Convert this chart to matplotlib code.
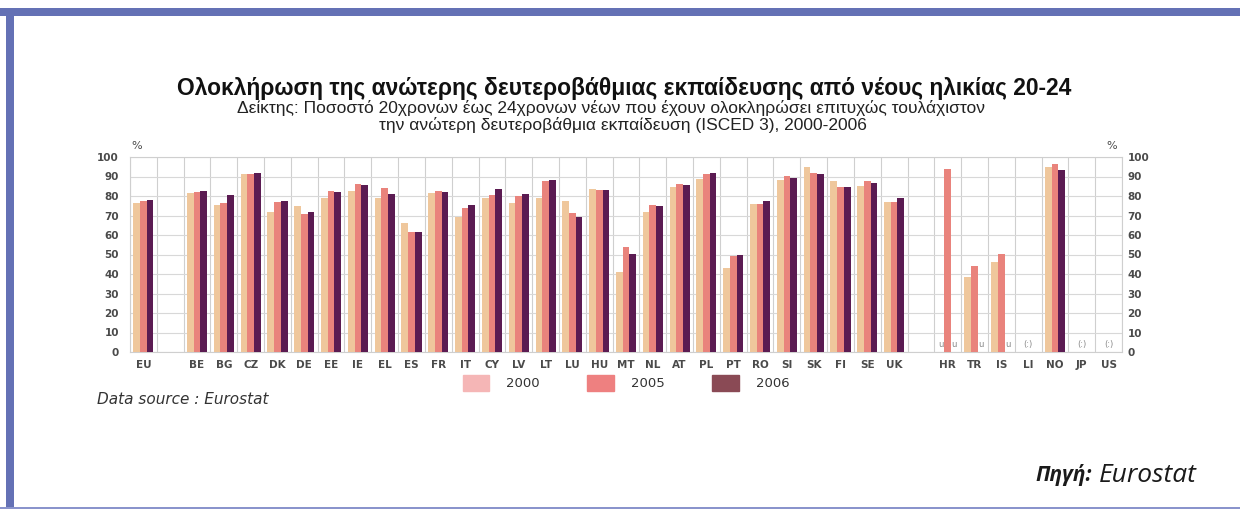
import numpy as np
import matplotlib.pyplot as plt
from matplotlib.patches import Patch

# categories (empty strings are the spacer slots)
countries = ['EU', '', 'BE', 'BG', 'CZ', 'DK', 'DE', 'EE', 'IE', 'EL', 'ES', 'FR', 'IT', 'CY',
             'LV', 'LT', 'LU', 'HU', 'MT', 'NL', 'AT', 'PL', 'PT', 'RO', 'SI', 'SK', 'FI',
             'SE', 'UK', '', 'HR', 'TR', 'IS', 'LI', 'NO', 'JP', 'US']
nan = np.nan
v2000 = [76.6, nan, 81.7, 75.2, 91.2, 72.0, 74.7, 79.0, 82.6, 79.2, 66.0, 81.6, 69.4, 79.0,
         76.5, 78.9, 77.5, 83.5, 40.9, 71.9, 84.7, 88.8, 43.2, 76.1, 88.0, 94.8, 87.7,
         85.2, 76.7, nan, nan, 38.5, 46.2, nan, 95.0, nan, nan]
v2005 = [77.5, nan, 81.8, 76.5, 91.2, 77.1, 71.0, 82.6, 86.1, 84.0, 61.3, 82.8, 73.6, 80.4,
         79.9, 87.8, 71.1, 83.3, 53.7, 75.6, 85.9, 91.1, 49.0, 76.0, 90.5, 91.8, 84.6,
         87.8, 77.1, nan, 93.6, 44.0, 50.2, nan, 96.2, nan, nan]
v2006 = [77.8, nan, 82.4, 80.5, 91.8, 77.4, 71.6, 82.0, 85.4, 81.0, 61.6, 82.1, 75.5, 83.7,
         81.0, 88.2, 69.3, 82.9, 50.4, 74.7, 85.8, 91.7, 49.6, 77.2, 89.4, 91.5, 84.7,
         86.5, 78.8, nan, nan, nan, nan, nan, 93.3, nan, nan]
years = ['2000', '2005', '2006']
# flags for missing values: (slot, series index, text)
flags = [(30, 0, 'u'), (30, 2, 'u'), (31, 2, 'u'), (32, 2, 'u'),
         (33, 1, '(:)'), (35, 1, '(:)'), (36, 1, '(:)')]

bar_colors = ['#efc79c', '#e9837c', '#5b1b52']
legend_colors = ['#f5b6b6', '#ee8080', '#8a4a55']
tick_color = '#4a4a4a'

fig = plt.figure(figsize=(12.4, 5.09), dpi=100)

# blue frame
frame = '#6471b5'
fig.add_artist(plt.Rectangle((0, 1 - 16 / 509), 1, 8 / 509, transform=fig.transFigure,
                             color=frame, lw=0))
fig.add_artist(plt.Rectangle((6 / 1240, 0), 8 / 1240, 1 - 9 / 509, transform=fig.transFigure,
                             color=frame, lw=0))
fig.add_artist(plt.Rectangle((0, 0), 1, 2 / 509, transform=fig.transFigure,
                             color='#8a94cc', lw=0))

ax = fig.add_axes([130 / 1240, 157 / 509, 992 / 1240, 195 / 509])
x = np.arange(len(countries))
w = 0.25
for i, vals in enumerate([v2000, v2005, v2006]):
    ax.bar(x + (i - 1) * w, vals, width=w, color=bar_colors[i], edgecolor='none', zorder=3)

for slot, i, txt in flags:
    ax.text(slot + (i - 1) * w, 4, txt, ha='center', va='center', fontsize=6,
            color='#888888', zorder=4)

ax.set_xlim(-0.5, len(countries) - 0.5)
ax.set_ylim(0, 100)
ax.set_yticks(np.arange(0, 101, 10))
ax.set_xticks(x)
ax.set_xticklabels(countries)
ax.set_xticks(np.arange(-0.5, len(countries), 1), minor=True)
ax.grid(True, which='minor', axis='x', color='#cfcfcf', lw=0.8, zorder=0)
ax.grid(True, which='major', axis='y', color='#d8d8d8', lw=0.8, zorder=0)
ax.tick_params(axis='x', which='both', length=0, pad=6)
ax.tick_params(axis='y', length=0, pad=8)
ax.tick_params(labelsize=7.5, labelcolor=tick_color)
for lab in ax.get_xticklabels() + ax.get_yticklabels():
    lab.set_fontweight('bold')
for s in ax.spines.values():
    s.set_color('#cfcfcf')
    s.set_linewidth(0.8)

ax2 = ax.twinx()
ax2.set_ylim(0, 100)
ax2.set_yticks(np.arange(0, 101, 10))
ax2.tick_params(axis='y', length=0, pad=4, labelsize=7.5, labelcolor=tick_color)
for lab in ax2.get_yticklabels():
    lab.set_fontweight('bold')
for s in ax2.spines.values():
    s.set_visible(False)

fig.text(137 / 1240, 1 - 146 / 509, '%', fontsize=8, color=tick_color, ha='center', va='center')
fig.text(1112 / 1240, 1 - 146 / 509, '%', fontsize=8, color=tick_color, ha='center', va='center')

sans = ['Liberation Sans', 'DejaVu Sans']
fig.text(624 / 1240, 1 - 88 / 509,
         'Ολοκλήρωση της ανώτερης δευτεροβάθμιας εκπαίδευσης από νέους ηλικίας 20-24',
         family=sans, fontsize=16.4, fontweight='bold', ha='center', va='center', color='#111111')
fig.text(611 / 1240, 1 - 108 / 509,
         'Δείκτης: Ποσοστό 20χρονων έως 24χρονων νέων που έχουν ολοκληρώσει επιτυχώς τουλάχιστον',
         family=sans, fontsize=12.5, ha='center', va='center', color='#222222')
fig.text(623 / 1240, 1 - 125 / 509,
         'την ανώτερη δευτεροβάθμια εκπαίδευση (ISCED 3), 2000-2006',
         family=sans, fontsize=12.5, ha='center', va='center', color='#222222')

handles = [Patch(color=c) for c in legend_colors]
fig.legend(handles, years, loc='center', bbox_to_anchor=(626 / 1240, 1 - 383 / 509), ncol=3,
           frameon=False, fontsize=9.5, handlelength=2.0, handleheight=1.6, columnspacing=3.6,
           handletextpad=1.3, labelcolor='#333333')

fig.text(97 / 1240, 1 - 399 / 509, 'Data source : Eurostat', fontsize=11, style='italic',
         color='#333333', ha='left', va='center')

fig.text(1035 / 1240, 1 - 475 / 509, 'Πηγή:', fontsize=15, style='italic', fontweight='bold',
         family='Open Sans', color='#1a1a1a', ha='left', va='center')
fig.text(1099 / 1240, 1 - 475 / 509, 'Eurostat', fontsize=19, style='italic',
         family='Open Sans', color='#1a1a1a', ha='left', va='center')

fig.savefig('out.png', dpi=100)
